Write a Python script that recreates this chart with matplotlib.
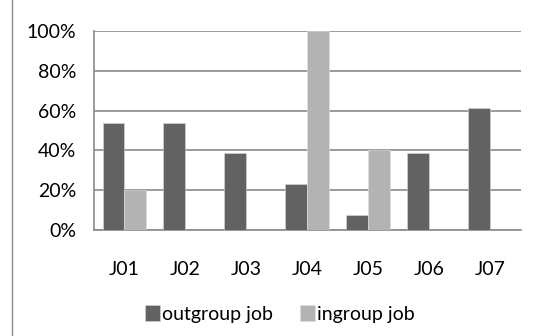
import matplotlib.pyplot as plt
import matplotlib.patches as mpatches
from matplotlib.ticker import PercentFormatter
import numpy as np

jobs = ['J01', 'J02', 'J03', 'J04', 'J05', 'J06', 'J07']
outgroup = [0.538, 0.538, 0.385, 0.231, 0.077, 0.385, 0.615]
ingroup = [0.20, 0.0, 0.0, 1.00, 0.40, 0.0, 0.0]

plt.rcParams['font.family'] = ['Lato', 'DejaVu Sans']
dark = '#626262'
light = '#b3b3b3'

fig = plt.figure(figsize=(5.38, 3.36), dpi=100)
ax = fig.add_axes([0.1747, 0.3155, 0.7933, 0.5922])

x = np.arange(len(jobs))
w = 0.36
ax.bar(x - w / 2, outgroup, w, color=dark, label='outgroup job', zorder=3,
       edgecolor='#d8d8d8', linewidth=0.4)
ax.bar(x + w / 2, ingroup, w, color=light, label='ingroup job', zorder=3,
       edgecolor='#e0e0e0', linewidth=0.4)

ax.set_xlim(-0.5, len(jobs) - 0.5)
ax.set_ylim(0, 1)
ax.set_yticks(np.arange(0, 1.01, 0.2))
ax.yaxis.set_major_formatter(PercentFormatter(1.0, decimals=0))
ax.set_xticks(x)
ax.set_xticklabels(jobs)
ax.tick_params(length=0, labelsize=14, colors='black')
ax.tick_params(axis='y', pad=13)
ax.tick_params(axis='x', pad=22)
ax.grid(axis='y', color='#8a8a8a', linewidth=1.2, zorder=0)
for s in ['top', 'right']:
    ax.spines[s].set_visible(False)
for s in ['left', 'bottom']:
    ax.spines[s].set_color('#8a8a8a')
    ax.spines[s].set_linewidth(1.2)

ax.legend(loc='center', bbox_to_anchor=(0.52, 0.065), bbox_transform=fig.transFigure,
          ncol=2, frameon=False, fontsize=14, handlelength=0.75, handleheight=0.85,
          handletextpad=0.1, columnspacing=1.4)

fig.patches.append(mpatches.Rectangle((12 / 538, -0.2), 1.2, 1.2 + (1 - 7 / 336),
                                      transform=fig.transFigure, fill=False,
                                      edgecolor='#8a8a8a', linewidth=1.0))

fig.savefig('out.png', dpi=100)
